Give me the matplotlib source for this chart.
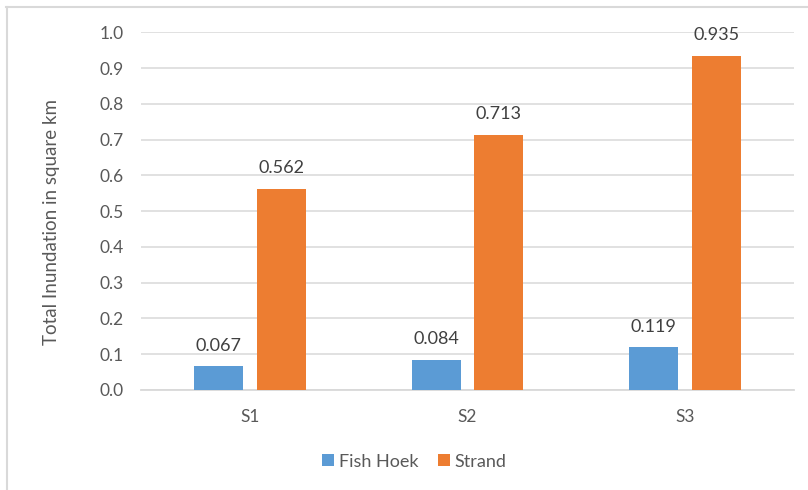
import matplotlib
matplotlib.use("Agg")
import matplotlib.pyplot as plt
from matplotlib.lines import Line2D
from matplotlib.patches import Patch
import numpy as np

plt.rcParams['font.family'] = ['Lato', 'DejaVu Sans']

categories = ["S1", "S2", "S3"]
fish_hoek = [0.067, 0.084, 0.119]
strand = [0.562, 0.713, 0.935]
series_names = ["Fish Hoek", "Strand"]
y_ticks = [0.0, 0.1, 0.2, 0.3, 0.4, 0.5, 0.6, 0.7, 0.8, 0.9, 1.0]

blue = "#5b9bd5"
orange = "#ed7d31"
grid_grey = "#d9d9d9"
text_grey = "#595959"
label_grey = "#404040"

fig = plt.figure(figsize=(8.08, 4.9), dpi=100)
ax = fig.add_axes([0.1751, 0.2041, 0.807, 0.7300])

x = np.arange(len(categories))
width = 0.225
offset = 0.144

b1 = ax.bar(x - offset, fish_hoek, width, color=blue, zorder=3)
b2 = ax.bar(x + offset, strand, width, color=orange, zorder=3)

for bars, vals in ((b1, fish_hoek), (b2, strand)):
    for rect, v in zip(bars, vals):
        ax.annotate(f"{v:.3f}", (rect.get_x() + rect.get_width() / 2, v),
                    xytext=(0, 9), textcoords="offset points",
                    ha="center", va="bottom", fontsize=13, color=label_grey,
                    zorder=4)

ax.set_xlim(-0.5, len(categories) - 0.5)
ax.set_ylim(0, 1.0)
ax.set_yticks(y_ticks)
ax.set_yticklabels([f"{t:.1f}" for t in y_ticks])
ax.set_xticks(x)
ax.set_xticklabels(categories)
ax.tick_params(axis="both", length=0, labelsize=12.5, colors=text_grey)
ax.tick_params(axis="y", pad=13)
ax.tick_params(axis="x", pad=14)

ax.grid(axis="y", color=grid_grey, linewidth=1.1, zorder=0)
ax.set_axisbelow(True)
for side in ("top", "right", "left"):
    ax.spines[side].set_visible(False)
ax.spines["bottom"].set_color(grid_grey)
ax.spines["bottom"].set_linewidth(1.3)

ax.set_ylabel("Total Inundation in square km", fontsize=13.5, color=text_grey)
ax.yaxis.set_label_coords(-0.125, 0.47)

handles = [Patch(facecolor=blue, edgecolor="none"),
           Patch(facecolor=orange, edgecolor="none")]
fig.legend(handles, series_names, loc="center", bbox_to_anchor=(0.513, 0.058),
           ncol=2, frameon=False, fontsize=13, labelcolor=text_grey,
           handlelength=0.67, handleheight=0.6, handletextpad=0.26,
           columnspacing=1.08)

# chart frame
fig.add_artist(Line2D([6 / 808, 1.0], [1 - 7 / 490, 1 - 7 / 490],
                      color=grid_grey, linewidth=1.5, transform=fig.transFigure))
fig.add_artist(Line2D([7 / 808, 7 / 808], [0.0, 1 - 7 / 490],
                      color=grid_grey, linewidth=1.5, transform=fig.transFigure))

fig.savefig("out.png", dpi=100)
